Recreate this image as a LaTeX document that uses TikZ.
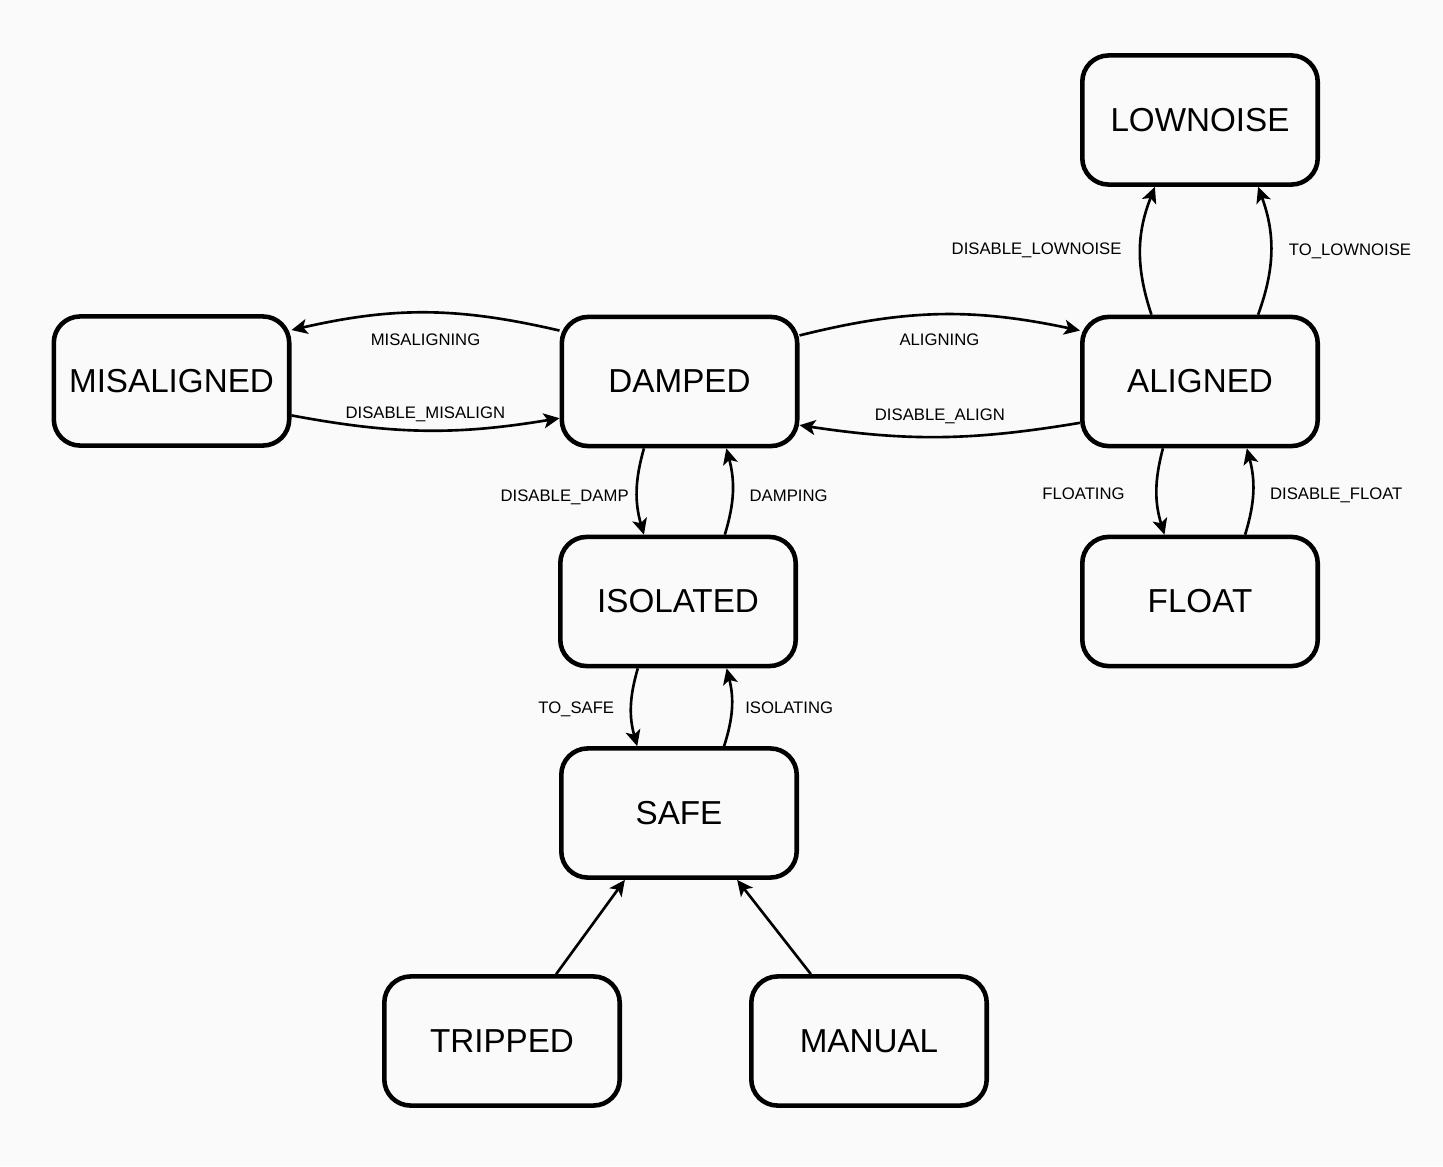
\documentclass[tikz,border=0pt]{standalone}
\usepackage{fontspec}
\setmainfont{Liberation Sans}
\usepackage{xcolor}
\usetikzlibrary{arrows.meta}
\definecolor{canvasgray}{RGB}{250,250,250}
\definecolor{strokeblack}{RGB}{0,0,0}

\begin{document}
\begin{tikzpicture}[
  x=0.02cm, y=-0.02cm,
  state/.style={
    draw=strokeblack,
    fill=canvasgray,
    line width=2.6pt,
    rounded corners=15pt,
    minimum width=134pt,
    minimum height=73.5pt,
    align=center,
    font=\fontsize{18.9}{22}\selectfont
  },
  line/.style={-{Stealth[length=9pt, width=8.5pt, inset=2.2pt]}, line width=1.5pt, draw=strokeblack},
  trans/.style={font=\fontsize{9.5}{11}\selectfont, text=strokeblack, inner sep=2pt, text height=7pt, text depth=2pt}
]

% Canvas
\fill[canvasgray] (0,0) rectangle (1443,1166);

% States
\node[state] (lownoise) at (1200,120) {LOWNOISE};
\node[state] (misaligned) at (171.5,381) {MISALIGNED};
\node[state] (damped) at (679.5,381.5) {DAMPED};
\node[state] (aligned) at (1200,381.5) {ALIGNED};
\node[state] (isolated) at (678,601.5) {ISOLATED};
\node[state] (float) at (1200,601.5) {FLOAT};
\node[state] (safe) at (679,813) {SAFE};
\node[state] (tripped) at (502,1041) {TRIPPED};
\node[state] (manual) at (869,1041) {MANUAL};

% DAMPED <-> MISALIGNED
\draw[line] (damped.157) to[bend right=13] node[trans, below=9pt] {MISALIGNING} (misaligned.23);
\draw[line] (misaligned.-16) to[bend right=10] node[trans, above=2pt] {DISABLE\_MISALIGN} (damped.197);

% DAMPED <-> ALIGNED
\draw[line] (damped.21) to[bend left=13] node[trans, below=8pt] {ALIGNING} (aligned.157);
\draw[line] (aligned.199) to[bend left=9] node[trans, above=4.5pt] {DISABLE\_ALIGN} (damped.-20);

% ALIGNED -> LOWNOISE
\draw[line] (aligned.126) to[bend left=20] node[trans, left=8pt] {DISABLE\_LOWNOISE} (lownoise.236);
\draw[line] (aligned.49) to[bend right=20] node[trans, right=7.5pt] {TO\_LOWNOISE} (lownoise.-49);

% DAMPED <-> ISOLATED
\draw[line] (damped.-118) to[bend right=16] node[trans, left=2pt, yshift=-3pt] {DISABLE\_DAMP} (isolated.117);
\draw[line] (isolated.55) to[bend right=16] node[trans, right=7pt, yshift=-3pt] {DAMPING} (damped.-55);

% ALIGNED <-> FLOAT
\draw[line] (aligned.-119) to[bend right=16] node[trans, left=15.5pt, yshift=-2pt] {FLOATING} (float.118);
\draw[line] (float.56) to[bend right=16] node[trans, right=7pt, yshift=-2pt] {DISABLE\_FLOAT} (aligned.-55);

% ISOLATED <-> SAFE
\draw[line] (isolated.-121) to[bend right=16] node[trans, left=7pt, yshift=-1pt] {TO\_SAFE} (safe.122);
\draw[line] (safe.56) to[bend right=16] node[trans, right=5pt, yshift=-1pt] {ISOLATING} (isolated.-54);

% Into SAFE
\draw[line] (tripped.51) -- (safe.231);
\draw[line] (manual.131) -- (safe.-49);

\end{tikzpicture}
\end{document}
